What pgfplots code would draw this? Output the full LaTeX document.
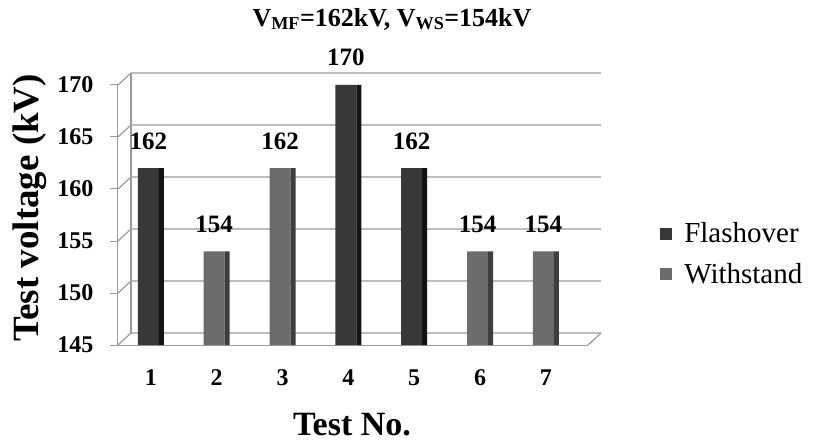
\documentclass[border=0pt]{standalone}
\usepackage{fontspec}
\setmainfont{Liberation Serif}
\usepackage{pgfplots}
\pgfplotsset{compat=1.18}
\definecolor{flash}{HTML}{383838}
\definecolor{flashside}{HTML}{141414}
\definecolor{withs}{HTML}{6C6C6C}
\definecolor{withsside}{HTML}{3E3E3E}
\definecolor{gridc}{HTML}{9A9A9A}
\begin{document}
\begin{tikzpicture}[x=1pt,y=1pt]
\useasboundingbox (-118,-99) rectangle (695,345);
\begin{axis}[
  scale only axis, width=470pt, height=260pt,
  at={(0pt,0pt)}, anchor=south west,
  clip mode=individual,
  xmin=0.5, xmax=7.64, ymin=145, ymax=170,
  axis x line*=bottom, axis y line*=left,
  axis line style={gridc, line width=1pt, -},
  xtick={1,...,7}, ytick={145,150,...,170},
  xtick style={draw=none},
  ytick style={gridc, line width=1pt},
  tick align=outside, major tick length=8pt,
  /pgf/number format/assume math mode=true,
  yticklabel style={font=\fontsize{24}{28}\selectfont\bfseries, anchor=east, xshift=-13pt},
  xticklabel style={font=\fontsize{24}{28}\selectfont\bfseries, anchor=base, yshift=-32pt},
  ybar, bar shift=0pt,
  nodes near coords,
  nodes near coords style={font=\fontsize{25}{29}\selectfont\bfseries, anchor=base, yshift=19pt},
  legend style={at={(1.147,0.35)}, anchor=west, draw=none, fill=none,
    font=\fontsize{29}{34}\selectfont, row sep=15pt, legend cell align=left},
]
% back wall, left wall and floor
\pgfplotsinvokeforeach{145,150,155,160,165,170}{
  \draw[gridc, line width=1.2pt] (axis cs:0.5,#1) -- ([shift={(13pt,12pt)}]axis cs:0.5,#1) -- ([shift={(13pt,12pt)}]axis cs:7.64,#1);
}
\draw[gridc, line width=1.2pt] ([shift={(13pt,12pt)}]axis cs:0.5,145) -- ([shift={(13pt,12pt)}]axis cs:0.5,170);
\draw[gridc, line width=1.2pt] (axis cs:7.64,145) -- ([shift={(13pt,12pt)}]axis cs:7.64,145);

\addplot[fill=flash, draw=none, bar width=21pt, bar shift=-2.5pt,
  legend image code/.code={\fill[flash] (0pt,-6pt) rectangle (12pt,6pt); \path (22pt,0pt);}]
  coordinates {(1,162) (4,170) (5,162)};
\addlegendentry{Flashover}
\addplot[fill=flashside, draw=none, bar width=5pt, bar shift=10.5pt, forget plot, nodes near coords={}]
  coordinates {(1,162) (4,170) (5,162)};
\addplot[fill=withs, draw=none, bar width=21pt, bar shift=-2.5pt,
  legend image code/.code={\fill[withs] (0pt,-6pt) rectangle (12pt,6pt); \path (22pt,0pt);}]
  coordinates {(2,154) (3,162) (6,154) (7,154)};
\addlegendentry{Withstand}
\addplot[fill=withsside, draw=none, bar width=5pt, bar shift=10.5pt, forget plot, nodes near coords={}]
  coordinates {(2,154) (3,162) (6,154) (7,154)};
\end{axis}
\node[font=\fontsize{26}{30}\selectfont\bfseries] at (274,326) {V\textsubscript{MF}=162kV, V\textsubscript{WS}=154kV};
\node[font=\fontsize{34}{40}\selectfont\bfseries, anchor=base, inner sep=1pt] at (234,-90) {Test No.};
\node[font=\fontsize{37}{42}\selectfont\bfseries, rotate=90] at (-88,137) {Test voltage (kV)};
\end{tikzpicture}
\end{document}
